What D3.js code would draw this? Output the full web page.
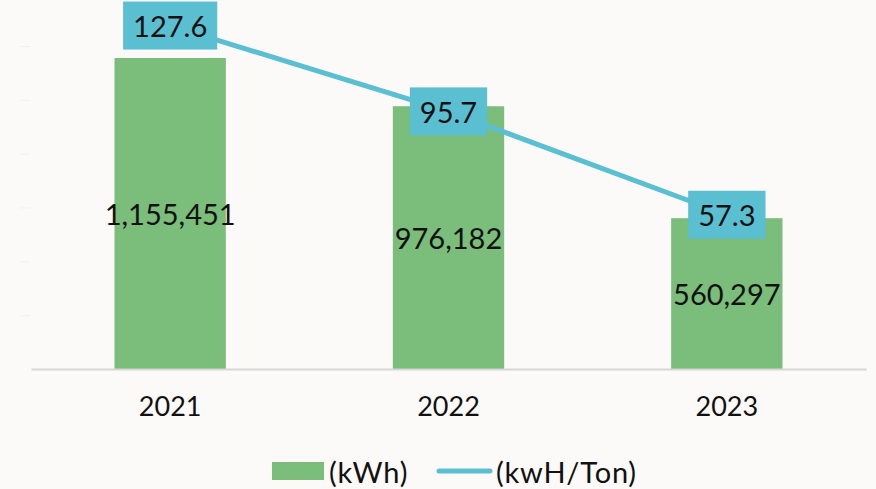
<!DOCTYPE html>
<html><head><meta charset="utf-8">
<script src="https://cdn.jsdelivr.net/npm/d3@7"></script>
<style>
html,body{margin:0;padding:0;background:#fcfaf8;}
svg{display:block;}
text{font-family:Lato,"Open Sans",sans-serif;fill:#111;}
</style></head>
<body><svg id="c" width="876" height="489"></svg>
<script>
const years = ["2021","2022","2023"];
const energy = [1155451, 976182, 560297];
const intensity = [127.6, 95.7, 57.3];
const energyTicks = [0,200000,400000,600000,800000,1000000,1200000];
const legendLabels = ["(kWh)","(kwH/Ton)"];

const W=876,H=489;
const svg=d3.select("#c");
const green="#7bbd7a", blue="#5bbfd2";
const x=d3.scaleBand().domain(years).range([31,866]).paddingInner(0.6).paddingOuter(0.3);
const y=d3.scaleLinear().domain([0,1200000]).range([369,46]);
const y2=d3.scaleLinear().domain([0,120]).range([369,46]);

// faint ticks on left axis
const yAxis=d3.axisLeft(y).tickValues(energyTicks).tickSize(10).tickFormat("");
const ga=svg.append("g").attr("transform","translate(30,0)").call(yAxis);
ga.select(".domain").remove();
ga.selectAll(".tick line").attr("stroke","#f3f0ec").attr("stroke-width",1);
ga.selectAll(".tick").filter(d=>d===0).remove();

// bars
svg.selectAll("rect.bar").data(energy).join("rect").attr("class","bar")
 .attr("x",(d,i)=>x(years[i])).attr("width",x.bandwidth())
 .attr("y",d=>y(d)).attr("height",d=>y(0)-y(d)).attr("fill",green);

// baseline axis
const xAxis=d3.axisBottom(x).tickSize(0).tickPadding(28);
const gx=svg.append("g").attr("transform","translate(0,369)").call(xAxis);
gx.select(".domain").attr("stroke","#d6d6d6").attr("stroke-width",2);
gx.selectAll("text").attr("font-size",27).attr("font-family","Lato,'Open Sans',sans-serif").attr("fill","#111");

// bar labels
svg.selectAll("text.bl").data(energy).join("text").attr("class","bl")
 .attr("x",(d,i)=>x(years[i])+x.bandwidth()/2).attr("y",d=>(y(d)+y(0))/2)
 .attr("text-anchor","middle").attr("dominant-baseline","central")
 .attr("font-size",29).text(d=>d3.format(",")(d));

// line
const line=d3.line().x((d,i)=>x(years[i])+x.bandwidth()/2).y(d=>y2(d));
svg.append("path").datum(intensity).attr("d",line).attr("fill","none")
 .attr("stroke",blue).attr("stroke-width",5);

// line labels with boxes
intensity.forEach((v,i)=>{
  const cx=x(years[i])+x.bandwidth()/2, cy=y2(v);
  const g=svg.append("g");
  const r=g.append("rect").attr("fill",blue);
  const t=g.append("text").attr("x",cx).attr("y",cy).attr("text-anchor","middle")
    .attr("dominant-baseline","central").attr("font-size",29).text(v.toFixed(1));
  const bb=t.node().getBBox();
  const pw=10, h=48;
  r.attr("x",cx-bb.width/2-pw).attr("width",bb.width+2*pw).attr("y",cy-h/2).attr("height",h);
});

// legend
const lg=svg.append("g");
lg.append("rect").attr("x",272).attr("y",462).attr("width",52).attr("height",18).attr("fill",green);
lg.append("text").attr("x",329).attr("y",471).attr("dominant-baseline","central").attr("font-size",29).attr("letter-spacing",0.8).text(legendLabels[0]);
lg.append("line").attr("x1",439).attr("x2",490).attr("y1",471).attr("y2",471).attr("stroke",blue).attr("stroke-width",5).attr("stroke-linecap","round");
lg.append("text").attr("x",496).attr("y",471).attr("dominant-baseline","central").attr("font-size",29).attr("letter-spacing",0.8).text(legendLabels[1]);
</script></body></html>
